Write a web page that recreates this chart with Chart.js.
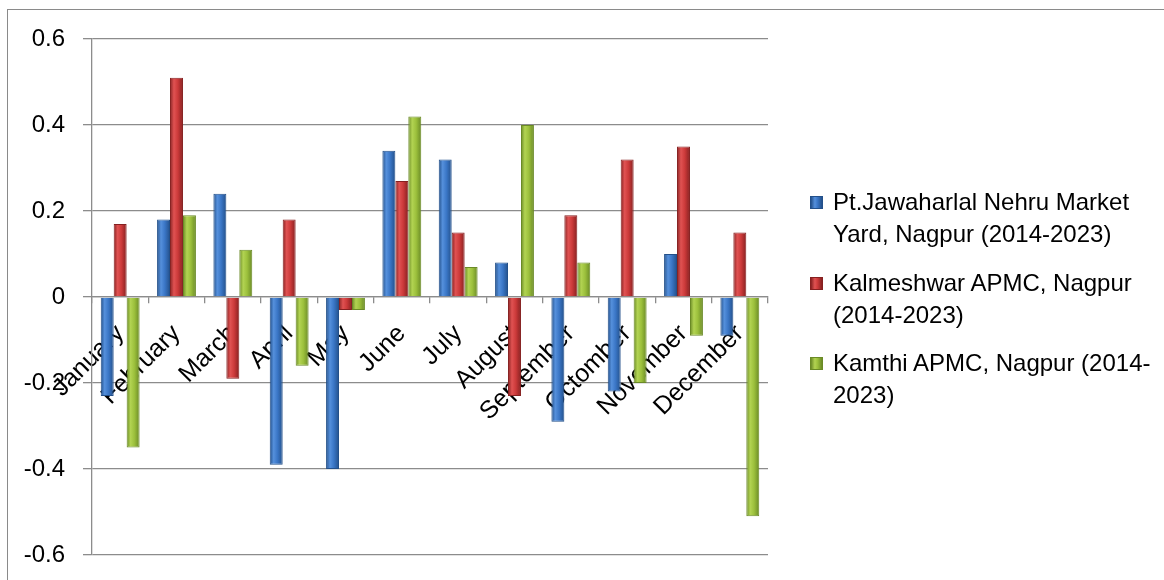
<!DOCTYPE html>
<html>
<head>
<meta charset="utf-8">
<script src="https://cdn.jsdelivr.net/npm/chart.js@4.4.1/dist/chart.umd.min.js"></script>
<style>
  html, body { margin: 0; padding: 0; background: #fff; }
  #wrap { position: relative; width: 1164px; height: 580px; overflow: hidden; }
  #frame { position: absolute; left: 7px; top: 9px; width: 1200px; height: 600px; border: 1px solid #8a8a8a; }
  #chart { position: absolute; left: 0; top: 0; }
  #legend { position: absolute; left: 808px; top: 186px; font-family: "Liberation Sans", sans-serif; font-size: 24px; line-height: 32px; color: #000; }
  .item { position: relative; padding-left: 25px; margin-bottom: 16.5px; white-space: nowrap; }
  .box { position: absolute; left: 2px; top: 10px; width: 13px; height: 13px; box-sizing: border-box; }
</style>
</head>
<body>
<div id="wrap">
  <div id="frame"></div>
  <canvas id="chart" width="1164" height="580"></canvas>
  <div id="legend"></div>
</div>
<script>
// categories
const months = ["January", "February", "March", "April", "May", "June",
  "July", "August", "September", "Octomber", "November", "December"];

// series
const jawaharlal = [-0.23, 0.18, 0.24, -0.39, -0.40, 0.34, 0.32, 0.08, -0.29, -0.22, 0.10, -0.09];
const kalmeshwar = [0.17, 0.51, -0.19, 0.18, -0.03, 0.27, 0.15, -0.23, 0.19, 0.32, 0.35, 0.15];
const kamthi = [-0.35, 0.19, 0.11, -0.16, -0.03, 0.42, 0.07, 0.40, 0.08, -0.20, -0.09, -0.51];

// legend lines
const seriesNames = [
  ["Pt.Jawaharlal Nehru Market", "Yard, Nagpur (2014-2023)"],
  ["Kalmeshwar APMC, Nagpur", "(2014-2023)"],
  ["Kamthi APMC, Nagpur (2014-", "2023)"]
];
const fills = ["#3a76c6", "#cc3a3a", "#9cc03c"];
const lights = ["#5590dc", "#e05252", "#b2d352"];
const edges = ["#23508a", "#862020", "#6a8a26"];

const ctx = document.getElementById("chart").getContext("2d");
const seriesData = [jawaharlal, kalmeshwar, kamthi];

// shade every bar left-to-right like a cylinder, once the bars have their x
const shading = {
  id: "shading",
  beforeDatasetsDraw(chart) {
    chart.data.datasets.forEach((ds, i) => {
      chart.getDatasetMeta(i).data.forEach((el) => {
        const g = chart.ctx.createLinearGradient(el.x - el.width / 2, 0, el.x + el.width / 2, 0);
        g.addColorStop(0, edges[i]);
        g.addColorStop(0.3, lights[i]);
        g.addColorStop(0.6, fills[i]);
        g.addColorStop(1, edges[i]);
        el.options = Object.assign({}, el.options, { backgroundColor: g });
      });
    });
  }
};

new Chart(ctx, {
  type: "bar",
  data: {
    labels: months,
    datasets: seriesData.map((d, i) => ({
      label: seriesNames[i].join(" "),
      data: d,
      backgroundColor: fills[i],
      borderColor: edges[i],
      borderWidth: 1,
      categoryPercentage: 0.69,
      barPercentage: 1
    }))
  },
  options: {
    responsive: false,
    animation: false,
    layout: { padding: { left: 0, top: 39, right: 396, bottom: 25 } },
    plugins: { legend: { display: false }, tooltip: { enabled: false } },
    scales: {
      x: {
        position: { y: 0 },
        z: 1,
        grid: { drawOnChartArea: false, offset: true, tickLength: 6, color: "#8c8c8c", lineWidth: 1.3 },
        border: { color: "#8c8c8c", width: 1.3 },
        ticks: {
          autoSkip: false, minRotation: 45, maxRotation: 45, padding: 16,
          color: "#000", font: { family: "Liberation Sans", size: 25 }
        }
      },
      y: {
        min: -0.6, max: 0.6,
        afterFit: (s) => { s.width = 92; s.paddingTop = 0; s.paddingBottom = 0; },
        grid: { color: "#8c8c8c", lineWidth: 1.3, tickLength: 9 },
        border: { color: "#8c8c8c", width: 1.3 },
        ticks: {
          stepSize: 0.2, padding: 18, color: "#000",
          font: { family: "Liberation Sans", size: 24 },
          callback: (v) => String(Number(v.toFixed(1)))
        }
      }
    }
  },
  plugins: [shading]
});

// legend as plain text beside the plot
const legend = document.getElementById("legend");
seriesNames.forEach((lines, i) => {
  const item = document.createElement("div");
  item.className = "item";
  const box = document.createElement("span");
  box.className = "box";
  box.style.background = `linear-gradient(to right, ${edges[i]}, ${lights[i]} 35%, ${fills[i]} 60%, ${edges[i]})`;
  box.style.border = `1px solid ${edges[i]}`;
  item.appendChild(box);
  lines.forEach((t, k) => {
    if (k) item.appendChild(document.createElement("br"));
    item.appendChild(document.createTextNode(t));
  });
  legend.appendChild(item);
});
</script>
</body>
</html>
